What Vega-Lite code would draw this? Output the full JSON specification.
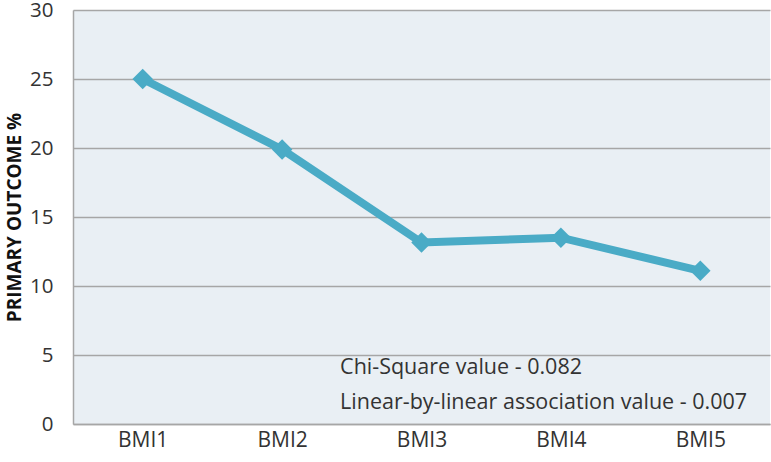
{
  "$schema": "https://vega.github.io/schema/vega-lite/v6.json",
  "width": 697,
  "height": 414,
  "autosize": "none",
  "padding": {"left": 73, "top": 10, "right": 1, "bottom": 38},
  "background": "white",
  "config": {
    "view": {"fill": "#e9eff4", "stroke": null},
    "font": "Open Sans"
  },
  "data": {
    "values": [
      {"group": "BMI1", "outcome": 25.0},
      {"group": "BMI2", "outcome": 19.9},
      {"group": "BMI3", "outcome": 13.15},
      {"group": "BMI4", "outcome": 13.5},
      {"group": "BMI5", "outcome": 11.1}
    ]
  },
  "layer": [
    {
      "mark": {"type": "line", "color": "#4aabc6", "strokeWidth": 8, "strokeJoin": "miter",
        "point": {"shape": "diamond", "size": 420, "filled": true, "color": "#4aabc6", "opacity": 1}},
      "encoding": {
        "x": {"field": "group", "type": "ordinal", "scale": {"paddingInner": 0, "paddingOuter": 0.5},
          "axis": {"title": null, "labelAngle": 0, "labelFontSize": 21, "labelColor": "#333333", "labelPadding": 5, "ticks": false, "domainColor": "#a6a6a6", "domainWidth": 1.5, "grid": false, "labelFont": "Open Sans"}},
        "y": {"field": "outcome", "type": "quantitative", "scale": {"domain": [0, 30], "nice": false},
          "axis": {"title": "PRIMARY OUTCOME %", "values": [0,5,10,15,20,25,30], "labelFontSize": 20.5, "labelColor": "#333333", "labelPadding": 20, "ticks": false, "domainColor": "#a6a6a6", "domainWidth": 1.5, "gridColor": "#a6a6a6", "gridWidth": 1.5, "titleFontSize": 19, "titleFontWeight": "bold", "titleColor": "#111111", "titlePadding": 5, "labelFont": "Open Sans", "titleFont": "Open Sans"}}
      }
    },
    {
      "data": {"values": [
        {"label": "Chi-Square value - 0.082", "grp": "BMI2", "pos": 4.05},
        {"label": "Linear-by-linear association value - 0.007", "grp": "BMI2", "pos": 1.5}
      ]},
      "mark": {"type": "text", "align": "left", "baseline": "middle", "dx": 58, "fontSize": 21.5, "color": "#333333", "font": "Open Sans"},
      "encoding": {
        "x": {"field": "grp", "type": "ordinal"},
        "y": {"field": "pos", "type": "quantitative"},
        "text": {"field": "label"}
      }
    }
  ]
}
